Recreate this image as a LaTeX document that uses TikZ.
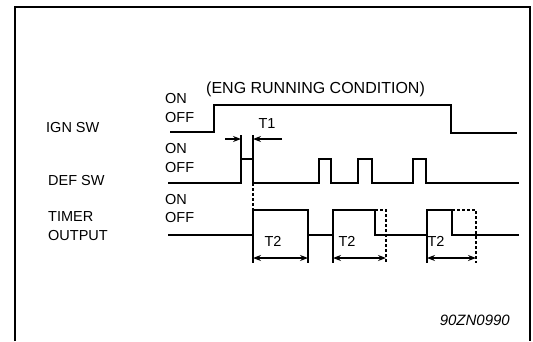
\documentclass[tikz,border=0pt]{standalone}
\usepackage{fontspec}
\setmainfont{Liberation Sans}
\usetikzlibrary{arrows.meta}
\begin{document}
\begin{tikzpicture}[x=1pt,y=-1pt,
  sig/.style={line width=1.6pt, line join=miter},
  dsh/.style={line width=1.3pt, dash pattern=on 3pt off 2pt},
  ext/.style={line width=1.2pt},
  dimarr/.style={line width=1.1pt, {Stealth[length=8pt,width=6pt]}-{Stealth[length=8pt,width=6pt]}},
  onearr/.style={line width=1.1pt, -{Stealth[length=8pt,width=6pt]}},
  lbl/.style={font=\fontsize{14.5}{14.5}\selectfont, inner sep=0pt, anchor=west},
  clbl/.style={font=\fontsize{14.5}{14.5}\selectfont, inner sep=0pt},
]
\useasboundingbox (0,0) rectangle (533,341);
% frame
\draw[line width=2.8pt] (15,341) -- (15,7) -- (530,7) -- (530,341);

% labels
\node[lbl] (ign) at (46,128) {IGN SW};
\node[lbl] (def) at (48,181) {DEF SW};
\node[lbl] (timer) at (48,217) {TIMER};
\node[lbl] (output) at (48,236) {OUTPUT};
\node[lbl] (on1) at (165,99) {ON};
\node[lbl] (off1) at (165,118) {OFF};
\node[lbl] (on2) at (165,149) {ON};
\node[lbl] (off2) at (165,168) {OFF};
\node[lbl] (on3) at (165,200) {ON};
\node[lbl] (off3) at (165,218) {OFF};
\node[lbl, font=\fontsize{16}{16}\selectfont] (eng) at (206,89) {(ENG RUNNING CONDITION)};
\node[clbl] (t1) at (267,124) {T1};
\node[clbl] (t2a) at (273,241) {T2};
\node[clbl] (t2b) at (347,241) {T2};
\node[clbl] (t2c) at (436,241) {T2};
\node[clbl, anchor=east, font=\fontsize{15}{15}\selectfont\itshape] (code) at (510,320) {90ZN0990};

% IGN SW signal
\draw[sig] (170,132) -- (214,132) -- (214,105) -- (451,105) -- (451,133) -- (517,133);

% DEF SW signal
\draw[sig] (168,183) -- (241,183) -- (241,159) -- (253,159) -- (253,183)
  -- (319,183) -- (319,159) -- (331,159) -- (331,183)
  -- (358,183) -- (358,159) -- (372,159) -- (372,183)
  -- (413,183) -- (413,159) -- (426,159) -- (426,183) -- (519,183);
% T1 extension lines and arrows
\draw[ext] (241,159) -- (241,135);
\draw[ext] (253,159) -- (253,135);
\coordinate (t1la) at (225,139);
\coordinate (t1lb) at (241,139);
\coordinate (t1ra) at (282,139);
\coordinate (t1rb) at (253,139);
\draw[onearr] (t1la) -- (t1lb);
\draw[onearr] (t1ra) -- (t1rb);
% dashed link DEF -> TIMER
\draw[dsh] (253,183) -- (253,210);

% TIMER OUTPUT signal
\draw[sig] (168,235) -- (253,235) -- (253,210) -- (308,210) -- (308,235)
  -- (333,235) -- (333,210) -- (375,210) -- (375,235)
  -- (427,235) -- (427,210) -- (452,210) -- (452,235) -- (519,235);
% dashed extended timer pulses
\draw[dsh] (375,210) -- (386,210) -- (386,263);
\draw[dsh] (452,210) -- (476,210) -- (476,263);
% extension lines
\draw[ext] (253,235) -- (253,263);
\draw[ext] (308,235) -- (308,263);
\draw[ext] (333,235) -- (333,263);
\draw[ext] (427,235) -- (427,263);
% T2 dimension arrows
\coordinate (d1a) at (253,258); \coordinate (d1b) at (308,258);
\coordinate (d2a) at (333,258); \coordinate (d2b) at (386,258);
\coordinate (d3a) at (427,258); \coordinate (d3b) at (476,258);
\draw[dimarr] (d1a) -- (d1b);
\draw[dimarr] (d2a) -- (d2b);
\draw[dimarr] (d3a) -- (d3b);
\end{tikzpicture}
\end{document}
